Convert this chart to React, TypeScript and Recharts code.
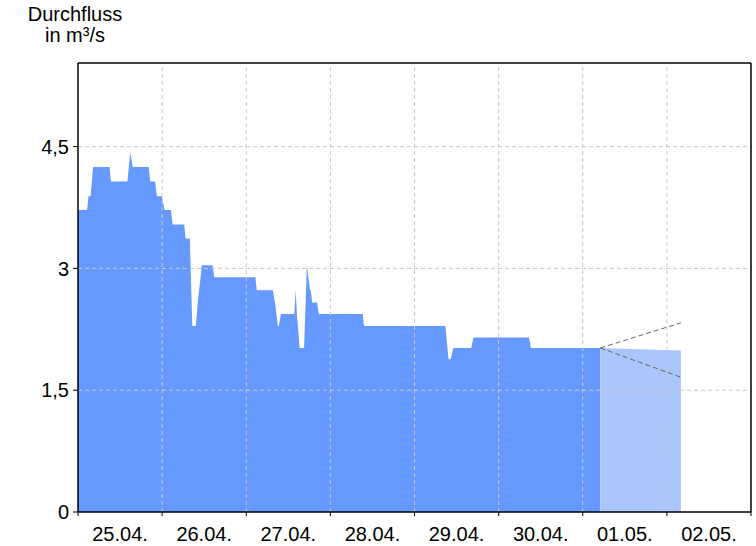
import React from 'react';
import { ComposedChart, Area, Line, XAxis, YAxis, ReferenceLine } from 'recharts';

// hours since 25.04. 00:00
const measuredHours = [
  0, 2.6, 3.0, 3.6, 4.3, 9.0, 9.4, 14.1, 14.9, 15.6,
  20.2, 20.6, 22.0, 22.5, 23.9, 24.7, 26.5, 27.0, 30.3, 30.7,
  31.9, 32.6, 33.6, 34.2, 35.0, 35.3, 38.4, 38.9, 50.6, 51.0,
  55.6, 56.3, 57.0, 57.3, 57.9, 61.7, 62.1, 62.5, 62.9, 63.2,
  64.5, 65.3, 66.2, 66.4, 66.8, 68.2, 68.7, 81.2, 81.6, 104.8,
  105.7, 106.3, 107.1, 112.2, 112.8, 128.7, 129.2, 149.0,
];
const measuredFlow = [
  3.72, 3.72, 3.89, 3.89, 4.25, 4.25, 4.07, 4.07, 4.43, 4.25,
  4.25, 4.07, 4.07, 3.89, 3.89, 3.72, 3.72, 3.54, 3.54, 3.37,
  3.37, 2.29, 2.29, 2.6, 2.9, 3.04, 3.04, 2.89, 2.89, 2.73,
  2.73, 2.55, 2.29, 2.29, 2.44, 2.44, 2.73, 2.4, 2.2, 2.02,
  2.02, 3.04, 2.73, 2.73, 2.58, 2.58, 2.44, 2.44, 2.29, 2.29,
  1.88, 1.88, 2.02, 2.02, 2.15, 2.15, 2.02, 2.02,
];

const forecastHours = [149, 172];
const forecastFlow = [2.02, 1.99];
const upperFlow = [2.02, 2.33];
const lowerFlow = [2.02, 1.66];

const dayLabels = ['25.04.', '26.04.', '27.04.', '28.04.', '29.04.', '30.04.', '01.05.', '02.05.'];
const dayTicks = [0, 24, 48, 72, 96, 120, 144, 168, 192];
const gridDays = [24, 48, 72, 96, 120, 144, 168];
const yTicks = [0, 1.5, 3, 4.5];
const yMax = 5.53;
const xMax = 192;

const measuredData = measuredHours.map((h, i) => ({ h, v: measuredFlow[i] }));
const forecastData = forecastHours.map((h, i) => ({ h, v: forecastFlow[i] }));
const upperData = forecastHours.map((h, i) => ({ h, v: upperFlow[i] }));
const lowerData = forecastHours.map((h, i) => ({ h, v: lowerFlow[i] }));

const FONT = '"Liberation Sans", Arial, sans-serif';

const XTick = (props: any) => {
  const { x, index } = props;
  const label = dayLabels[index];
  if (!label) return null;
  const halfDay = (673 / 8) / 2;
  return (
    <text x={x + halfDay} y={541} textAnchor="middle" fontFamily={FONT} fontSize={20} fill="#000">
      {label}
    </text>
  );
};

export default function App() {
  return (
    <div style={{ position: 'absolute', left: 0, top: 0, width: 756, height: 546, background: '#fff' }}>
      <svg width={756} height={60} style={{ position: 'absolute', left: 0, top: 0 }}>
        <text x={75} y={21} textAnchor="middle" fontFamily={FONT} fontSize={20} fill="#000">Durchfluss</text>
        <text x={75} y={42} textAnchor="middle" fontFamily={FONT} fontSize={20} fill="#000">in m³/s</text>
      </svg>
      <div style={{ position: 'absolute', left: 0, top: 0 }}>
        <ComposedChart width={756} height={546} margin={{ top: 63, right: 5, bottom: 0, left: 0 }}>
          <XAxis
            dataKey="h"
            type="number"
            domain={[0, xMax]}
            ticks={dayTicks}
            interval={0}
            axisLine={{ stroke: '#000', strokeWidth: 1.5 }}
            tickLine={{ stroke: '#000' }}
            tickSize={4}
            tick={<XTick />}
            height={34}
            allowDataOverflow
          />
          <YAxis
            type="number"
            domain={[0, yMax]}
            ticks={yTicks}
            interval={0}
            width={78}
            axisLine={{ stroke: '#000', strokeWidth: 1.5 }}
            tickLine={{ stroke: '#000' }}
            tickSize={5}
            tickMargin={4}
            tick={{ fill: '#000', fontSize: 20, fontFamily: FONT }}
            tickFormatter={(v: number) => String(v).replace('.', ',')}
            allowDataOverflow
          />
          <Area
            data={measuredData}
            dataKey="v"
            type="linear"
            stroke="none"
            fill="#6699ff"
            fillOpacity={1}
            isAnimationActive={false}
          />
          <Area
            data={forecastData}
            dataKey="v"
            type="linear"
            stroke="none"
            fill="#abc6fd"
            fillOpacity={1}
            isAnimationActive={false}
          />
          {gridDays.map((d) => (
            <ReferenceLine key={'gx' + d} x={d} stroke="#c8c8c8" strokeDasharray="4 3" />
          ))}
          {yTicks.slice(1).map((t) => (
            <ReferenceLine key={'gy' + t} y={t} stroke="#c8c8c8" strokeDasharray="4 3" />
          ))}
          <Line
            data={upperData}
            dataKey="v"
            type="linear"
            stroke="#666"
            strokeDasharray="5 3"
            dot={false}
            activeDot={false}
            isAnimationActive={false}
          />
          <Line
            data={lowerData}
            dataKey="v"
            type="linear"
            stroke="#666"
            strokeDasharray="5 3"
            dot={false}
            activeDot={false}
            isAnimationActive={false}
          />
          <ReferenceLine y={yMax} stroke="#000" strokeWidth={1.5} />
          <ReferenceLine x={xMax} stroke="#000" strokeWidth={1.5} />
        </ComposedChart>
      </div>
    </div>
  );
}
